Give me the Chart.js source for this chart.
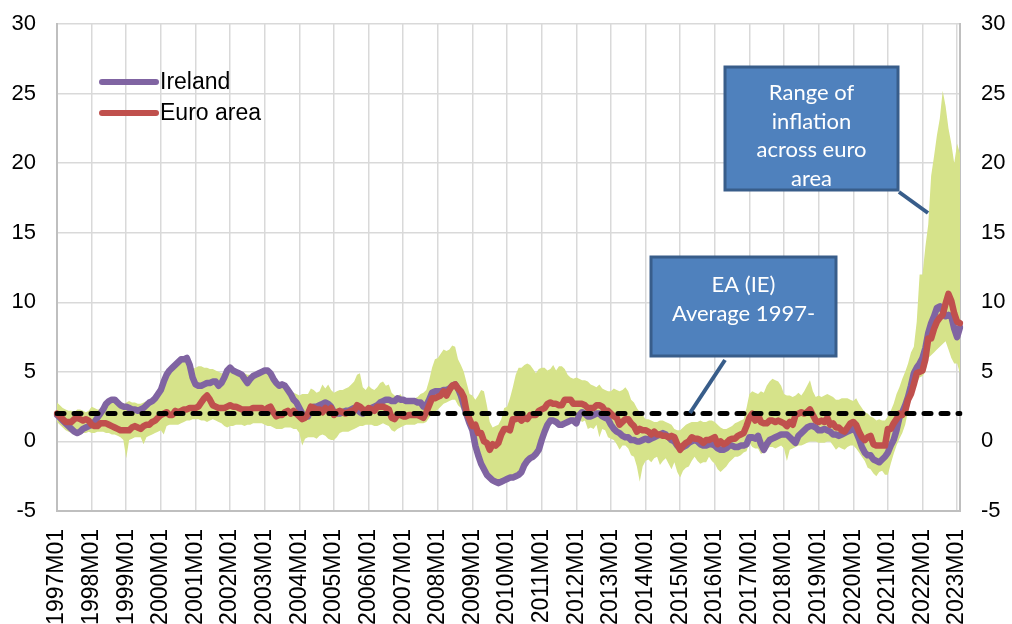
<!DOCTYPE html>
<html>
<head>
<meta charset="utf-8">
<script src="https://cdn.jsdelivr.net/npm/chart.js@4.4.1/dist/chart.umd.min.js"></script>
<style>
    html, body { margin: 0; padding: 0; background: #fff; }
    #wrap { width: 1012px; height: 624px; }
</style>
</head>
<body>
<div id="wrap"><canvas id="myChart" width="1012" height="624"></canvas></div>
<script>
// categories: monthly, 1997M01 .. 2023M02
const firstYear = 1997;
const lastYear = 2023;
const lastMonth = 2;

const avgValue = 2.0;

// HICP inflation, % y/y
const ireland = [
    1.9, 1.7, 1.5, 1.3, 1.1, 0.9, 0.7, 0.6, 0.7, 0.9, 1.0, 1.1,
    1.2, 1.4, 1.7, 2.0, 2.3, 2.7, 2.9, 3.0, 3.0, 2.8, 2.6, 2.5,
    2.5, 2.4, 2.3, 2.3, 2.2, 2.3, 2.4, 2.6, 2.8, 2.9, 3.1, 3.4,
    3.7, 4.3, 4.8, 5.1, 5.3, 5.5, 5.7, 5.9, 5.9, 6.0, 5.5, 4.6,
    4.1, 4.0, 4.0, 4.1, 4.2, 4.2, 4.3, 4.3, 4.0, 4.2, 4.6, 5.1,
    5.3, 5.1, 5.0, 4.9, 4.8, 4.5, 4.2, 4.5, 4.7, 4.8, 4.9, 5.0,
    5.1, 5.1, 4.9, 4.5, 4.2, 4.0, 4.1, 4.0, 3.7, 3.4, 3.0, 2.8,
    2.4, 2.0, 1.8, 1.8, 2.4, 2.5, 2.5, 2.6, 2.7, 2.8, 2.7, 2.5,
    2.1, 2.0, 2.0, 2.1, 2.2, 2.2, 2.3, 2.4, 2.3, 2.1, 2.0, 2.1,
    2.2, 2.4, 2.5, 2.6, 2.8, 2.9, 3.0, 3.0, 2.9, 2.9, 3.1, 3.0,
    3.0, 2.9, 2.9, 2.9, 2.9, 2.8, 2.8, 2.5, 2.6, 3.0, 3.5, 3.6,
    3.6, 3.6, 3.7, 3.7, 3.8, 4.0, 4.1, 3.8, 3.3, 2.6, 1.9, 1.3,
    0.8, -0.3, -1.0, -1.6, -2.0, -2.4, -2.6, -2.8, -2.9, -3.0, -2.9, -2.8,
    -2.7, -2.6, -2.6, -2.5, -2.4, -2.2, -1.7, -1.4, -1.2, -1.1, -0.9, -0.6,
    0.1, 0.7, 1.2, 1.5, 1.5, 1.4, 1.2, 1.2, 1.3, 1.4, 1.5, 1.5,
    1.3, 1.9, 2.1, 2.0, 1.8, 1.8, 1.9, 2.0, 2.0, 1.8, 1.7, 1.6,
    1.2, 0.9, 0.7, 0.6, 0.4, 0.3, 0.3, 0.1, 0.1, 0.0, 0.0, 0.1,
    0.2, 0.1, 0.2, 0.3, 0.4, 0.5, 0.6, 0.5, 0.3, 0.1, 0.0, -0.3,
    -0.5, -0.4, -0.3, -0.1, 0.0, 0.1, 0.0, -0.2, -0.3, -0.3, -0.2, -0.2,
    -0.3, -0.5, -0.6, -0.6, -0.5, -0.3, -0.3, -0.4, -0.4, -0.3, -0.3, -0.2,
    0.3, 0.3, 0.2, 0.4, -0.2, -0.6, -0.2, 0.1, 0.2, 0.3, 0.4, 0.5,
    0.5, 0.5, 0.3, 0.1, -0.1, 0.4, 0.6, 0.8, 1.0, 1.1, 1.1, 1.0,
    0.8, 0.8, 0.9, 0.8, 0.7, 0.5, 0.5, 0.4, 0.5, 0.6, 0.7, 0.8,
    0.9, 0.7, 0.2, -0.4, -0.8, -1.0, -1.0, -1.3, -1.4, -1.5, -1.3, -1.1,
    -0.8, -0.3, 0.1, 0.8, 1.7, 2.1, 2.6, 3.2, 4.0, 4.9, 5.3, 5.6,
    6.0, 6.7, 7.8, 8.5, 9.0, 9.6, 9.7, 9.4, 9.0, 9.1, 9.0, 8.1,
    7.5, 8.2
];

const euroArea = [
    2.0, 1.8, 1.6, 1.4, 1.4, 1.4, 1.6, 1.7, 1.6, 1.5, 1.6, 1.5,
    1.2, 1.1, 1.1, 1.3, 1.3, 1.3, 1.2, 1.1, 1.0, 0.9, 0.8, 0.8,
    0.8, 0.8, 1.0, 1.1, 1.0, 0.9, 1.1, 1.2, 1.2, 1.4, 1.5, 1.7,
    1.9, 2.0, 2.1, 1.9, 1.9, 2.2, 2.1, 2.2, 2.3, 2.3, 2.4, 2.4,
    2.4, 2.5, 2.8, 3.1, 3.3, 3.0, 2.6, 2.5, 2.4, 2.4, 2.4, 2.5,
    2.6, 2.5, 2.5, 2.4, 2.3, 2.3, 2.3, 2.3, 2.4, 2.4, 2.4, 2.4,
    2.2, 2.4, 2.5, 2.1, 1.8, 1.9, 1.9, 2.1, 2.2, 2.0, 2.2, 2.0,
    1.8, 1.6, 1.7, 2.0, 2.5, 2.4, 2.3, 2.3, 2.1, 2.4, 2.2, 2.4,
    1.9, 2.1, 2.2, 2.1, 2.0, 2.1, 2.2, 2.2, 2.6, 2.5, 2.3, 2.2,
    2.4, 2.3, 2.2, 2.5, 2.5, 2.5, 2.4, 2.3, 1.7, 1.6, 1.9, 1.9,
    1.8, 1.8, 1.9, 1.9, 1.9, 1.9, 1.8, 1.7, 2.1, 2.6, 3.1, 3.1,
    3.2, 3.3, 3.6, 3.3, 3.7, 4.0, 4.1, 3.8, 3.6, 3.2, 2.1, 1.6,
    1.1, 1.2, 0.6, 0.6, 0.0, -0.1, -0.6, -0.2, -0.3, -0.1, 0.5, 0.9,
    0.9, 0.8, 1.6, 1.6, 1.7, 1.5, 1.7, 1.6, 1.9, 1.9, 1.9, 2.2,
    2.3, 2.4, 2.7, 2.8, 2.7, 2.7, 2.6, 2.6, 3.0, 3.0, 3.0, 2.7,
    2.7, 2.7, 2.7, 2.6, 2.4, 2.4, 2.4, 2.6, 2.6, 2.5, 2.2, 2.2,
    2.0, 1.8, 1.7, 1.2, 1.4, 1.6, 1.6, 1.3, 1.1, 0.7, 0.9, 0.8,
    0.8, 0.7, 0.5, 0.7, 0.5, 0.5, 0.4, 0.4, 0.3, 0.4, 0.3, -0.2,
    -0.6, -0.3, -0.1, 0.0, 0.3, 0.2, 0.2, 0.1, -0.1, 0.1, 0.1, 0.2,
    0.3, -0.2, 0.0, -0.2, -0.1, 0.1, 0.2, 0.2, 0.4, 0.5, 0.6, 1.1,
    1.7, 2.0, 1.5, 1.9, 1.4, 1.3, 1.3, 1.5, 1.5, 1.4, 1.5, 1.4,
    1.3, 1.1, 1.4, 1.2, 1.9, 2.0, 2.1, 2.0, 2.1, 2.3, 1.9, 1.5,
    1.4, 1.5, 1.4, 1.7, 1.2, 1.3, 1.0, 1.0, 0.8, 0.7, 1.0, 1.3,
    1.4, 1.2, 0.7, 0.3, 0.1, 0.3, 0.4, -0.2, -0.3, -0.3, -0.3, -0.3,
    0.9, 0.9, 1.3, 1.6, 2.0, 1.9, 2.2, 3.0, 3.4, 4.1, 4.9, 5.0,
    5.1, 5.9, 7.4, 7.4, 8.1, 8.6, 8.9, 9.1, 9.9, 10.6, 10.1, 9.2,
    8.6, 8.5
];

// highest and lowest rate across euro area members
const rangeMax = [
    2.8, 2.6, 2.4, 2.3, 2.2, 2.2, 2.1, 2.3, 2.3, 2.2, 2.1, 2.2,
    2.5, 2.4, 2.3, 2.3, 2.4, 2.8, 3.0, 3.1, 3.1, 2.9, 2.7, 2.6,
    2.8, 2.9, 2.8, 2.8, 2.7, 2.7, 2.8, 2.9, 3.0, 3.1, 3.2, 3.5,
    3.8, 4.4, 4.9, 5.2, 5.4, 5.6, 5.8, 6.0, 6.0, 6.1, 5.6, 5.2,
    5.3, 5.4, 5.4, 5.3, 5.3, 5.2, 5.2, 5.1, 5.0, 4.9, 4.9, 5.2,
    5.4, 5.2, 5.1, 5.0, 4.9, 4.9, 4.8, 4.8, 4.9, 4.9, 5.0, 5.1,
    5.2, 5.2, 5.0, 4.7, 4.4, 4.2, 4.2, 4.1, 3.8, 3.6, 3.5, 3.4,
    3.3, 3.4, 3.4, 3.4, 3.8, 3.7, 3.5, 3.6, 4.1, 3.8, 4.1, 3.7,
    3.5, 3.6, 3.7, 3.7, 3.8, 3.9, 4.1, 4.3, 4.8, 4.9, 3.9, 3.7,
    4.0, 3.8, 3.7, 3.9, 4.2, 4.3, 4.0, 4.1, 3.5, 3.3, 3.2, 3.4,
    3.1, 3.0, 3.0, 3.1, 3.1, 3.2, 3.4, 3.5, 3.7, 4.4, 5.3, 5.9,
    6.0, 6.3, 6.6, 6.5, 6.6, 6.9, 6.8, 5.9, 5.5, 5.0, 4.2, 3.4,
    3.3, 3.0, 3.3, 3.7, 3.6, 2.6, 1.4, 1.0, 1.1, 1.2, 1.6, 2.4,
    2.5, 3.1, 3.9, 4.8, 5.3, 5.3, 5.5, 5.6, 5.5, 5.2, 4.9, 5.2,
    5.3, 5.3, 5.1, 5.2, 5.5, 5.1, 5.4, 5.4, 5.2, 4.8, 4.6, 4.5,
    4.6, 4.5, 4.4, 4.4, 4.3, 4.1, 4.0, 3.9, 4.1, 3.8, 3.7, 3.6,
    3.6, 3.8, 3.7, 3.6, 3.7, 3.9, 3.6, 3.0, 2.8, 2.4, 2.1, 1.9,
    1.6, 1.6, 1.5, 1.4, 1.4, 1.5, 1.5, 1.4, 1.3, 1.2, 0.9, 0.8,
    0.8, 1.0, 1.2, 1.3, 1.4, 1.4, 1.4, 1.5, 1.4, 1.4, 1.5, 1.5,
    1.4, 1.2, 1.0, 0.9, 0.9, 1.0, 1.1, 1.3, 1.4, 1.5, 1.6, 2.4,
    3.4, 3.6, 3.5, 3.4, 3.6, 3.5, 4.0, 4.3, 4.5, 4.4, 4.3, 4.0,
    3.4, 3.3, 3.3, 3.2, 3.3, 3.5, 3.3, 3.6, 4.0, 4.4, 3.6, 3.2,
    3.3, 3.2, 3.3, 3.4, 3.3, 3.2, 3.0, 3.0, 3.1, 3.1, 3.1, 3.0,
    2.9, 3.1, 2.7, 2.4, 2.1, 2.0, 1.8, 1.7, 1.5, 1.6, 1.5, 1.5,
    1.8, 2.2, 2.7, 3.4, 3.9, 4.5, 5.0, 5.6, 6.4, 6.8, 8.6, 12.0,
    12.0, 14.0, 15.6, 19.1, 20.5, 22.0, 23.2, 25.2, 24.1, 22.5, 21.4, 20.0,
    21.4, 20.7
];

const rangeMin = [
    1.4, 1.2, 1.0, 0.8, 0.7, 0.6, 0.5, 0.5, 0.5, 0.6, 0.6, 0.7,
    0.6, 0.6, 0.7, 0.7, 0.7, 0.6, 0.6, 0.5, 0.5, 0.4, 0.3, 0.1,
    -1.2, 0.1, 0.2, 0.3, 0.3, 0.3, -0.2, 0.3, 0.4, 0.5, 0.6, 0.7,
    0.8, 0.5, 1.1, 1.2, 1.2, 1.2, 1.2, 1.3, 1.4, 1.5, 1.5, 1.6,
    1.6, 1.6, 1.5, 1.5, 1.4, 1.5, 1.6, 1.5, 1.4, 1.3, 1.1, 1.0,
    1.1, 1.1, 1.2, 1.2, 1.2, 1.1, 1.2, 1.2, 1.3, 1.3, 1.3, 1.3,
    1.2, 1.1, 1.1, 1.0, 0.9, 0.9, 0.9, 1.0, 1.0, 1.0, 0.9, 0.9,
    0.6, -0.3, 0.2, 0.3, 0.3, 0.3, 0.2, 0.4, 0.5, 0.4, 0.2, 0.1,
    0.1, 0.3, 0.6, 0.7, 0.7, 0.7, 0.8, 0.9, 1.0, 1.1, 1.1, 1.2,
    1.2, 1.2, 1.1, 1.1, 1.2, 1.3, 1.2, 1.1, 0.8, 0.7, 0.9, 1.0,
    1.1, 1.2, 1.2, 1.2, 1.2, 1.3, 1.3, 1.3, 1.4, 1.7, 2.0, 2.1,
    2.3, 2.5, 2.7, 2.8, 2.9, 3.0, 3.0, 2.6, 2.4, 1.9, 1.4, 0.9,
    0.1, -0.4, -1.1, -1.7, -2.1, -2.5, -2.7, -2.9, -3.0, -3.1, -3.0, -2.9,
    -2.8, -2.7, -2.7, -2.6, -2.5, -2.3, -1.8, -1.5, -1.3, -1.2, -1.0, -0.7,
    0.0, 0.6, 1.1, 1.4, 1.4, 1.3, 1.1, 1.1, 1.2, 1.3, 1.4, 1.4,
    1.2, 1.6, 1.4, 1.5, 0.9, 1.0, 0.9, 1.2, 0.3, 0.9, 0.8, 0.3,
    0.2, 0.1, -0.2, -0.6, -0.3, -0.3, -0.5, -1.0, -1.1, -1.8, -2.9, -1.8,
    -1.4, -1.3, -1.5, -1.2, -1.1, -1.7, -1.4, -1.2, -1.6, -2.0, -1.5, -2.2,
    -2.6, -2.1, -1.9, -1.8, -1.4, -1.1, -1.4, -1.6, -1.5, -1.5, -1.1, -1.4,
    -1.6, -2.0, -2.2, -2.0, -1.8, -1.5, -1.3, -1.1, -1.1, -1.0, -0.8, -0.7,
    -0.1, -0.4, -0.5, -0.5, -0.9, -0.8, -0.6, -0.4, -0.4, -0.5, -0.4, -0.3,
    -0.5, -1.4, -0.6, -0.5, -0.4, -0.3, -0.3, -0.2, -0.1, 0.0, 0.0, 0.0,
    -0.1, -0.1, -0.1, 0.0, 0.0, -0.3, -0.6, -0.4, -0.5, -0.6, -0.4, -0.3,
    -0.3, -0.5, -0.8, -1.1, -1.4, -1.9, -2.0, -2.3, -2.5, -2.2, -2.1, -2.4,
    -2.4, -1.6, -0.9, -0.3, 0.2, 0.6, 1.2, 2.2, 3.0, 3.7, 4.2, 4.6,
    4.7, 5.0, 6.0, 6.2, 6.4, 6.6, 6.8, 7.0, 7.2, 6.6, 6.0, 5.6,
    5.6, 4.9
];

const months = [];
for (let y = firstYear; y <= lastYear; y++) {
    for (let m = 1; m <= 12; m++) {
        if (y === lastYear && m > lastMonth) break;
        months.push(y + 'M' + String(m).padStart(2, '0'));
    }
}

const tickFont = { family: '"Liberation Sans", Arial, sans-serif', size: 22 };
const gridColor = '#d9d9d9';
const borderColor = '#bfbfbf';

const legendPlugin = {
    id: 'cornerLegend',
    afterDraw(chart) {
        const c = chart.ctx;
        const items = [
            { label: 'Ireland', color: '#8064a2', y: 82 },
            { label: 'Euro area', color: '#c0504d', y: 113 },
        ];
        c.save();
        c.lineCap = 'round';
        c.lineWidth = 6;
        c.font = '23px "Liberation Sans", Arial, sans-serif';
        c.textBaseline = 'middle';
        items.forEach(item => {
            c.strokeStyle = item.color;
            c.beginPath();
            c.moveTo(102, item.y);
            c.lineTo(156, item.y);
            c.stroke();
            c.fillStyle = '#000';
            c.fillText(item.label, 160, item.y + 1);
        });
        c.restore();
    }
};

const calloutPlugin = {
    id: 'callouts',
    afterDraw(chart) {
        const c = chart.ctx;
        const boxes = [
            { x: 725, y: 67, w: 173, h: 123, lines: ['Range of', 'inflation', 'across euro', 'area'], ty: 93,
              from: [899, 192], to: [928, 213] },
            { x: 651, y: 257, w: 185, h: 99, lines: ['EA (IE)', 'Average 1997-'], ty: 285,
              from: [725, 360], to: [690, 413] },
        ];
        c.save();
        boxes.forEach(b => {
            c.strokeStyle = '#385d8a';
            c.lineWidth = 4;
            c.beginPath();
            c.moveTo(b.from[0], b.from[1]);
            c.lineTo(b.to[0], b.to[1]);
            c.stroke();

            c.fillStyle = '#4f81bd';
            c.fillRect(b.x, b.y, b.w, b.h);
            c.lineWidth = 3;
            c.strokeRect(b.x, b.y, b.w, b.h);

            c.fillStyle = '#fff';
            c.font = '22px Lato, "Open Sans", sans-serif';
            c.textAlign = 'center';
            c.textBaseline = 'middle';
            b.lines.forEach((t, i) => {
                c.fillText(t, b.x + b.w / 2, b.ty + i * 28.7);
            });
        });
        c.restore();
    }
};

// y axes: fixed width, and no extra label padding above/below the plot
const fitYAxis = (width) => (axis) => {
    axis.width = width;
    axis.paddingTop = 0;
    axis.paddingBottom = 0;
};

const ctx = document.querySelector('#myChart');
const chart = new Chart(ctx, {
    type: 'line',
    data: {
        labels: months,
        datasets: [
            {
                label: 'EA (IE) Average 1997-',
                data: [{ x: months[0], y: avgValue }, { x: months[months.length - 1], y: avgValue }],
                borderColor: '#000',
                borderWidth: 5,
                borderDash: [7, 10],
                borderCapStyle: 'round',
                pointRadius: 0,
                fill: false,
            },
            {
                label: 'Euro area',
                data: euroArea,
                borderColor: '#c0504d',
                borderWidth: 6.5,
                borderCapStyle: 'round',
                borderJoinStyle: 'round',
                pointRadius: 0,
                fill: false,
            },
            {
                label: 'Ireland',
                data: ireland,
                borderColor: '#8064a2',
                borderWidth: 6.5,
                borderCapStyle: 'round',
                borderJoinStyle: 'round',
                pointRadius: 0,
                fill: false,
            },
            {
                label: 'Max',
                data: rangeMax,
                borderWidth: 0,
                borderColor: 'rgba(0,0,0,0)',
                backgroundColor: '#d6e38a',
                pointRadius: 0,
                fill: '+1',
            },
            {
                label: 'Min',
                data: rangeMin,
                borderWidth: 0,
                borderColor: 'rgba(0,0,0,0)',
                pointRadius: 0,
                fill: false,
            },
        ],
    },
    options: {
        responsive: false,
        animation: false,
        layout: { padding: { top: 24, left: 0, right: 0, bottom: 0 } },
        elements: { line: { tension: 0 } },
        plugins: {
            legend: { display: false },
            tooltip: { enabled: false },
        },
        scales: {
            x: {
                type: 'category',
                offset: false,
                grid: { color: gridColor, lineWidth: 1.5, drawTicks: false },
                border: { color: borderColor, width: 2 },
                ticks: {
                    autoSkip: false,
                    minRotation: 90,
                    maxRotation: 90,
                    padding: 18,
                    color: '#000',
                    font: { family: tickFont.family, size: 23 },
                    callback(value) {
                        const label = this.getLabelForValue(value);
                        return label.endsWith('M01') ? label : null;
                    },
                },
                afterFit(axis) { axis.height = 113; },
            },
            y: {
                position: 'left',
                min: -5,
                max: 30,
                grid: { color: gridColor, lineWidth: 1.5, drawTicks: false },
                border: { color: borderColor, width: 2 },
                ticks: { stepSize: 5, padding: 21, color: '#000', font: tickFont },
                afterFit: fitYAxis(57),
            },
            y2: {
                position: 'right',
                min: -5,
                max: 30,
                grid: { drawOnChartArea: false, drawTicks: false },
                border: { color: borderColor, width: 2 },
                ticks: { stepSize: 5, padding: 21, color: '#000', font: tickFont },
                afterFit: fitYAxis(52),
            },
        },
    },
    plugins: [legendPlugin, calloutPlugin],
});
</script>
</body>
</html>
